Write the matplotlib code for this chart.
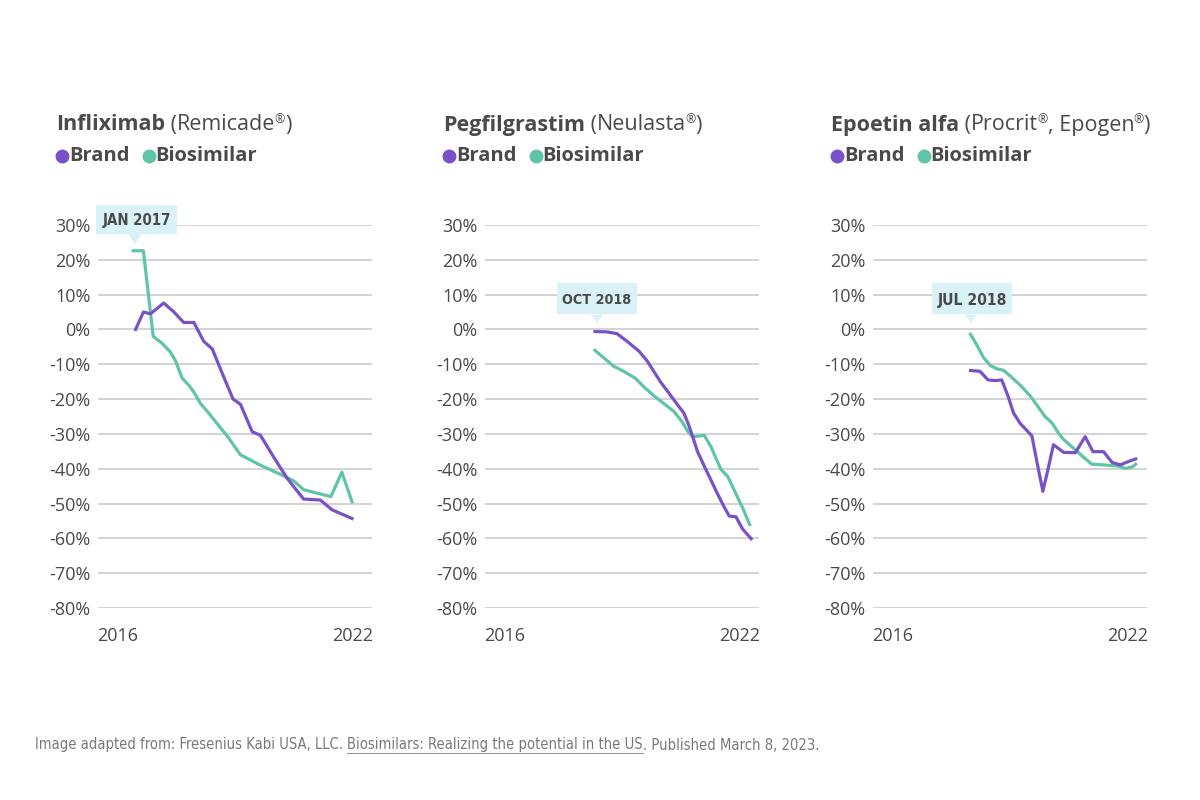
import matplotlib.pyplot as plt
from matplotlib.lines import Line2D
from matplotlib.patches import Polygon, Rectangle

# Data (percent change, x in fractional years as placed on the chart)
infl_brand_x = [2016.46, 2016.66, 2016.84, 2017.18, 2017.44, 2017.69, 2017.95, 2018.20, 2018.42,
                2018.67, 2018.95, 2019.14, 2019.44, 2019.65, 2019.99, 2020.33, 2020.75, 2021.18,
                2021.48, 2021.99]
infl_brand_y = [0, 5, 4.5, 7.6, 5, 2, 2, -3.4, -5.6, -12.5, -20, -21.5, -29.4, -30.4, -36.7,
                -42.7, -48.7, -49, -51.8, -54.3]
infl_bio_x = [2016.40, 2016.66, 2016.91, 2017.14, 2017.35, 2017.48, 2017.65, 2017.82, 2017.95,
              2018.12, 2018.29, 2018.54, 2018.80, 2019.14, 2019.65, 2020.16, 2020.50, 2020.75,
              2021.09, 2021.45, 2021.73, 2021.99]
infl_bio_y = [22.6, 22.6, -2, -4, -6.5, -9, -14, -16, -18, -21.3, -23.5, -27, -30.6, -36, -39,
              -41.6, -43.5, -46, -47, -48, -41, -49.5]

peg_brand_x = [2018.31, 2018.61, 2018.87, 2019.13, 2019.43, 2019.64, 2019.81, 2019.98, 2020.16,
               2020.41, 2020.58, 2020.71, 2020.80, 2020.93, 2021.10, 2021.27, 2021.44, 2021.61,
               2021.74, 2021.91, 2022.08, 2022.30]
peg_brand_y = [-0.6, -0.7, -1.2, -3.4, -6.2, -9, -12, -15, -17.7, -21.5, -24, -27.6, -30.6,
               -35.1, -39.2, -43.2, -47.2, -51, -53.6, -53.8, -57.3, -60.1]
peg_bio_x = [2018.31, 2018.57, 2018.78, 2019.04, 2019.34, 2019.56, 2019.81, 2020.07, 2020.33,
             2020.54, 2020.67, 2020.80, 2020.97, 2021.10, 2021.27, 2021.40, 2021.53, 2021.70,
             2021.91, 2022.08, 2022.26]
peg_bio_y = [-6, -8.5, -10.5, -12, -14, -16.5, -19, -21.3, -23.6, -26.6, -29.1, -30.8, -30.6,
             -30.4, -33.6, -37, -40.2, -42.2, -47.2, -51.2, -56]

epo_brand_x = [2017.99, 2018.23, 2018.44, 2018.62, 2018.79, 2018.96, 2019.09, 2019.26, 2019.43,
               2019.56, 2019.70, 2019.84, 2019.98, 2020.11, 2020.37, 2020.67, 2020.92, 2021.12,
               2021.39, 2021.61, 2021.82, 2022.03, 2022.21]
epo_brand_y = [-11.8, -12, -14.5, -14.7, -14.5, -19.5, -24, -27, -29, -30.6, -38.7, -46.5,
               -39.7, -33.1, -35.3, -35.4, -30.8, -35.1, -35.1, -38.2, -38.9, -37.9, -37.2]
epo_bio_x = [2017.99, 2018.15, 2018.32, 2018.49, 2018.66, 2018.83, 2019.00, 2019.26, 2019.51,
             2019.73, 2019.90, 2020.07, 2020.24, 2020.37, 2020.62, 2020.88, 2021.09, 2021.39,
             2021.74, 2021.95, 2022.12, 2022.21]
epo_bio_y = [-1.4, -4.4, -8, -10.3, -11.3, -11.7, -13.3, -16, -19, -22.4, -25.1, -26.8, -29.8,
             -31.6, -34.1, -36.7, -38.7, -38.9, -39.2, -39.9, -39.5, -38.7]

titles = ["Infliximab", "Pegfilgrastim", "Epoetin alfa"]
brand_names = [["Remicade"], ["Neulasta"], ["Procrit", ", Epogen"]]
callouts = ["JAN 2017", "OCT 2018", "JUL 2018"]
y_ticks = [30, 20, 10, 0, -10, -20, -30, -40, -50, -60, -70, -80]

PURPLE = "#7a52c7"
TEAL = "#5fc4a9"
TEXT = "#4a4a4a"
BOX = "#d8f2f8"
FONT = "Open Sans"
W, H = 1200, 800

series = [
    (infl_brand_x, infl_brand_y, infl_bio_x, infl_bio_y),
    (peg_brand_x, peg_brand_y, peg_bio_x, peg_bio_y),
    (epo_brand_x, epo_brand_y, epo_bio_x, epo_bio_y),
]
lefts_px = [98, 485, 873]
# callout box (x0, x1, y0, y1) in data units, pointer tip (x, y)
boxes = [
    ((2015.46, 2017.51, 27.4, 35.7), (2016.44, 24.5)),
    ((2017.33, 2019.38, 4.3, 13.2), (2018.36, 2.0)),
    ((2017.01, 2019.06, 4.3, 13.2), (2018.0, 2.0)),
]

fig = plt.figure(figsize=(12, 8), dpi=100)
fig.patch.set_facecolor("white")
renderer = fig.canvas.get_renderer()


def put(x_px, y_px, s, **kw):
    """Place text at pixel coords, return it and its right edge in pixels."""
    t = fig.text(x_px / W, 1 - y_px / H, s, va="center", **kw)
    return t, t.get_window_extent(renderer).x1


def fit(t, width_px):
    """Shrink text until it is no wider than width_px."""
    size = t.get_fontsize()
    while t.get_window_extent(renderer).width > width_px and size > 5:
        size -= 0.25
        t.set_fontsize(size)


def dot(x_px, y_px, color):
    fig.add_artist(Line2D([x_px / W], [1 - y_px / H], marker="o", markersize=9,
                          color=color, linestyle="none"))


for i in range(3):
    bx, by, sx, sy = series[i]
    ax = fig.add_axes([lefts_px[i] / W, 1 - 608 / H, 274 / W, 383 / H])
    ax.set_xlim(2015.5, 2022.5)
    ax.set_ylim(-80, 30)
    for s in ax.spines.values():
        s.set_visible(False)
    for t in y_ticks:
        ax.axhline(t, color="#c8c8c8", lw=1.1, zorder=1)
    ax.set_yticks(y_ticks)
    ax.set_yticklabels([f"{t}%" for t in y_ticks], fontsize=13, color=TEXT, family=FONT)
    ax.set_xticks([2016, 2022])
    ax.set_xticklabels(["2016", "2022"], fontsize=13, color=TEXT, family=FONT)
    ax.tick_params(length=0, axis="y", pad=5.5)
    ax.tick_params(length=0, axis="x", pad=14)

    ax.plot(sx, sy, color=TEAL, lw=2.3, zorder=3, clip_on=False, solid_joinstyle="round")
    ax.plot(bx, by, color=PURPLE, lw=2.3, zorder=4, clip_on=False, solid_joinstyle="round")

    (x0, x1, y0, y1), (tx, ty) = boxes[i]
    ax.add_patch(Rectangle((x0, y0), x1 - x0, y1 - y0, facecolor=BOX, edgecolor="none",
                           zorder=5, clip_on=False))
    ax.add_patch(Polygon([[tx - 0.17, y0], [tx + 0.17, y0], [tx, ty]], closed=True,
                         facecolor=BOX, edgecolor="none", zorder=5, clip_on=False))
    ct = ax.text((x0 + x1) / 2, (y0 + y1) / 2 - 0.3, callouts[i], ha="center", va="center",
                 fontsize=12, fontweight="bold", color=TEXT, family="DejaVu Sans",
                 fontstretch="condensed", zorder=6)
    fit(ct, 70)

    # title with superscript registered marks
    x = lefts_px[i] - 42
    _, x = put(x, 125, titles[i], fontsize=15.5, fontweight="bold", color=TEXT, family=FONT)
    _, x = put(x, 125, " (", fontsize=15.5, color=TEXT, family=FONT)
    for name in brand_names[i]:
        _, x = put(x, 125, name, fontsize=15.5, color=TEXT, family=FONT)
        _, x = put(x - 1, 120, "®", fontsize=9, color=TEXT, family=FONT)
    put(x, 125, ")", fontsize=15.5, color=TEXT, family=FONT)

    # legend
    lx = lefts_px[i] - 42
    dot(lx + 6, 156, PURPLE)
    _, x = put(lx + 13, 156, "Brand", fontsize=14.5, fontweight="bold", color=TEXT,
               family=FONT)
    dot(x + 19, 156, TEAL)
    put(x + 26, 156, "Biosimilar", fontsize=14.5, fontweight="bold", color=TEXT, family=FONT)

# footer
fy = 745
foot_kw = dict(fontsize=11.5, color="#7a7a7a", family="DejaVu Sans", fontstretch="condensed")
p1, _ = put(35, fy, "Image adapted from: Fresenius Kabi USA, LLC. ", **foot_kw)
p2, _ = put(0, fy, "Biosimilars: Realizing the potential in the US", **foot_kw)
p3, _ = put(0, fy, ". Published March 8, 2023.", **foot_kw)
total = sum(p.get_window_extent(renderer).width for p in (p1, p2, p3))
if total > 782:
    for p in (p1, p2, p3):
        p.set_fontsize(foot_kw["fontsize"] * 782 / total)
x = p1.get_window_extent(renderer).x1
p2.set_x(x / W)
b2 = p2.get_window_extent(renderer)
p3.set_x(b2.x1 / W)
fig.add_artist(Line2D([b2.x0 / W, b2.x1 / W], [1 - (fy + 8) / H, 1 - (fy + 8) / H],
                      color="#9a9a9a", lw=0.8))

fig.savefig("out.png", dpi=100, facecolor="white")
